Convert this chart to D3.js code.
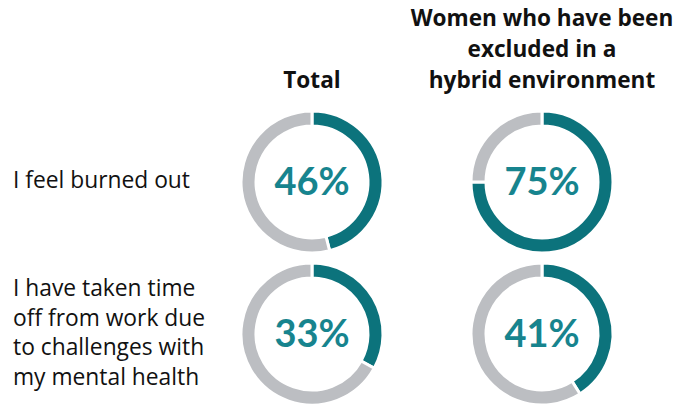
<!DOCTYPE html>
<meta charset="utf-8">
<style>
body { margin: 0; background: #fff; }
text { font-family: 'Open Sans', sans-serif; }
.rowLabel { font-size: 22.8px; fill: #111; }
.colHead { font-size: 22.6px; font-weight: bold; fill: #111; }
.pct { font-family: 'Lato', sans-serif; font-size: 38px; font-weight: bold; fill: #17848e; }
</style>
<body>
<script src="https://d3js.org/d3.v7.min.js"></script>
<script>
    // data
    const columns = ["Total", "Women who have been excluded in a hybrid environment"];
    const columnLines = [["Total"], ["Women who have been", "excluded in a", "hybrid environment"]];
    const rows = ["I feel burned out", "I have taken time off from work due to challenges with my mental health"];
    const rowLines = [["I feel burned out"], ["I have taken time", "off from work due", "to challenges with", "my mental health"]];
    const values = [[46, 75], [33, 41]]; // values[row][col], percent

    const width = 677, height = 407,
        outerR = 71, innerR = 56;

    const svg = d3.select("body").append("svg")
        .attr("width", width)
        .attr("height", height);

    let x = d3.scalePoint().domain(columns).range([312, 542]),
        y = d3.scalePoint().domain(rows).range([182, 334]);

    let color = d3.scaleOrdinal()
        .domain(["value", "rest"])
        .range(["#0c737c", "#bcbec2"]);

    let pie = d3.pie()
        .sort(null)
        .value(d => d.v);

    let arc = d3.arc()
        .innerRadius(innerR)
        .outerRadius(outerR);

    // column headers, bottom line sits at the same baseline
    columns.forEach((c, i) => {
        const lines = columnLines[i];
        svg.append("g").selectAll("text")
            .data(lines)
            .join("text")
                .attr("class", "colHead")
                .attr("text-anchor", "middle")
                .attr("x", x(c))
                .attr("y", (d, j) => 88 - (lines.length - 1 - j) * 31)
                .text(d => d);
    });

    // row labels, vertically centred on the donut row
    rows.forEach((r, i) => {
        const lines = rowLines[i];
        svg.append("g").selectAll("text")
            .data(lines)
            .join("text")
                .attr("class", "rowLabel")
                .attr("x", 13)
                .attr("y", (d, j) => y(r) + (j - (lines.length - 1) / 2) * 29.7)
                .attr("dy", "0.28em")
                .text(d => d);
    });

    // donuts
    rows.forEach((r, i) => {
        columns.forEach((c, j) => {
            const v = values[i][j];
            const g = svg.append("g")
                .attr("transform", `translate(${x(c)},${y(r)})`);

            g.selectAll("path")
                .data(pie([{k: "value", v: v}, {k: "rest", v: 100 - v}]))
                .join("path")
                    .attr("d", arc)
                    .attr("fill", d => color(d.data.k))
                    .attr("stroke", "#fff")
                    .attr("stroke-width", 3);

            g.append("text")
                .attr("class", "pct")
                .attr("text-anchor", "middle")
                .attr("dy", "0.35em")
                .text(v + "%");
        });
    });
</script>
</body>
